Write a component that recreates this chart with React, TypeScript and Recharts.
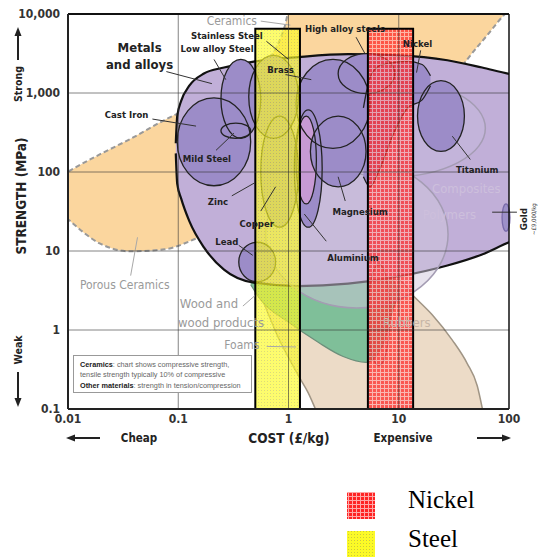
import React from "react";
import {
  ComposedChart,
  Area,
  XAxis,
  YAxis,
  ReferenceArea,
  ReferenceLine,
  ReferenceDot,
} from "recharts";

const FONT = '"DejaVu Sans Condensed", "Liberation Sans Narrow", "DejaVu Sans", sans-serif';

const X_TICKS = [0.01, 0.1, 1, 10, 100];
const Y_TICKS = [0.1, 1, 10, 100, 1000, 10000];
const X_MINOR = [
  0.02, 0.03, 0.04, 0.05, 0.06, 0.07, 0.08, 0.09,
  0.2, 0.3, 0.4, 0.5, 0.6, 0.7, 0.8, 0.9,
  2, 3, 4, 5, 6, 7, 8, 9,
  20, 30, 40, 50, 60, 70, 80, 90,
];
const Y_MINOR = [
  0.2, 0.3, 0.4, 0.5, 0.6, 0.7, 0.8, 0.9,
  2, 3, 4, 5, 6, 7, 8, 9,
  20, 30, 40, 50, 60, 70, 80, 90,
  200, 300, 400, 500, 600, 700, 800, 900,
  2000, 3000, 4000, 5000, 6000, 7000, 8000, 9000,
];

// [cost £/kg, strength low MPa, strength high MPa]
const CERAMICS = [
  [0.0076, 36, 80], [0.01, 25.3, 101], [0.0194, 12.5, 167], [0.0362, 9.9, 259],
  [0.0749, 10.5, 454], [0.155, 14.9, 750], [0.354, 23.9, 1475], [0.733, 37, 3268],
  [0.92, 41, 6820], [1.04, 48, 12290], [3.47, 128, 12290], [12, 416, 12290],
  [27.6, 1166, 12290], [41.8, 2660, 12290], [63.4, 5380, 12290], [92, 10000, 12290],
  [106, 12000, 12290],
];
const FOAMS_RUBBERS = [
  [0.5, 3.2, 3.5], [0.537, 2.95, 3.6], [0.661, 1.55, 4], [0.813, 0.785, 4],
  [1.0, 0.449, 4], [1.23, 0.264, 4], [1.51, 0.16, 4], [1.79, 0.094, 4],
  [2.2, 0.05, 4], [9.8, 0.05, 4.34], [13.9, 0.05, 2.62], [20.2, 0.05, 1.55],
  [30.6, 0.05, 0.745], [41.8, 0.05, 0.376], [51.5, 0.05, 0.197], [58.3, 0.05, 0.09],
];
const WOOD = [
  [0.454, 3.74, 4.34], [0.56, 2.4, 5.8], [1.0, 1.26, 5.8], [1.86, 0.698, 5.8],
  [3.13, 0.462, 5.8], [5.05, 0.39, 5.8], [7.18, 0.645, 5.8], [8.83, 1.79, 4.5],
  [9.8, 2.6, 3.0],
];
const METALS = [
  [0.095, 172, 231], [0.0979, 71, 510], [0.1065, 45.7, 800], [0.126, 23.9, 1236],
  [0.171, 11.1, 1762], [0.26, 5.8, 2100], [0.484, 3.97, 2500], [1.23, 3.6, 2850],
  [3.47, 3.86, 3100], [9.8, 4.73, 3000], [27.6, 6.55, 2600], [57, 9.05, 2100],
  [100, 12.9, 1750], [131, 14.9, 1650],
];
const NICKEL_ALLOYS = [
  [4.78, 87, 647], [5.48, 65, 1564], [6.74, 110, 2230], [9.0, 310, 2433],
  [12.0, 647, 2507], [16.3, 818, 2295], [19.4, 1236, 1652],
];

// material families drawn as ellipses: cost range, strength range
const ENVELOPES = [
  { name: "polymers", x1: 0.62, x2: 28, y1: 1.9, y2: 140 },
  { name: "composites", x1: 1.23, x2: 61, y1: 87, y2: 1475 },
];
const METAL_GROUPS = [
  { name: "stainless", x1: 0.436, x2: 1.23, y1: 267, y2: 2992 },
  { name: "copper", x1: 0.56, x2: 1.23, y1: 20, y2: 511 },
  { name: "brass", x1: 1.17, x2: 5.48, y1: 199, y2: 2660 },
  { name: "aluminium", x1: 1.13, x2: 2.02, y1: 20, y2: 610 },
  { name: "zinc", x1: 1.17, x2: 1.79, y1: 39.4, y2: 511 },
  { name: "highAlloy", x1: 2.82, x2: 9.2, y1: 980, y2: 3150 },
  { name: "magnesium", x1: 1.58, x2: 5.05, y1: 65, y2: 511 },
  { name: "lowAlloy", x1: 0.244, x2: 0.56, y1: 267, y2: 2660 },
  { name: "castIron", x1: 0.0979, x2: 0.454, y1: 67, y2: 869 },
  { name: "mildSteel", x1: 0.244, x2: 0.454, y1: 267, y2: 416 },
  { name: "titanium", x1: 14.8, x2: 39.4, y1: 182, y2: 1432 },
  { name: "lead", x1: 0.354, x2: 0.764, y1: 4.08, y2: 12.9 },
  { name: "gold", x1: 86.5, x2: 102, y1: 17.8, y2: 39.4 },
  { name: "elastomer", x1: 5.26, x2: 8.3, y1: 0.355, y2: 6.75 },
];

const BARS = [
  { name: "Steel", x1: 0.5, x2: 1.27, y1: 0.1, y2: 6500 },
  { name: "Nickel", x1: 5.25, x2: 13.5, y1: 0.1, y2: 6500 },
];

const LABELS = [
  { text: "Ceramics", x: 0.306, y: 8130, kind: "grey" },
  { text: "Stainless Steel", x: 0.276, y: 5380, kind: "metal" },
  { text: "Low alloy Steel", x: 0.225, y: 3675, kind: "metal" },
  { text: "Metals", x: 0.0446, y: 3786, kind: "title" },
  { text: "and alloys", x: 0.0446, y: 2295, kind: "title" },
  { text: "Cast Iron", x: 0.034, y: 542, kind: "metal" },
  { text: "Mild Steel", x: 0.182, y: 148, kind: "metal" },
  { text: "Zinc", x: 0.229, y: 41.8, kind: "metal" },
  { text: "Copper", x: 0.515, y: 22.5, kind: "metal" },
  { text: "Lead", x: 0.276, y: 13.3, kind: "metal" },
  { text: "Brass", x: 0.847, y: 1980, kind: "metal" },
  { text: "High alloy steels", x: 3.26, y: 6620, kind: "metal" },
  { text: "Nickel", x: 14.8, y: 4255, kind: "metal" },
  { text: "Titanium", x: 51.5, y: 107, kind: "metal" },
  { text: "Magnesium", x: 4.46, y: 31.2, kind: "metal" },
  { text: "Aluminium", x: 3.85, y: 8.28, kind: "metal" },
  { text: "Composites", x: 41, y: 61.4, kind: "pale" },
  { text: "Polymers", x: 28.8, y: 29.4, kind: "pale" },
  { text: "Porous Ceramics", x: 0.0327, y: 3.74, kind: "grey" },
  { text: "Wood and", x: 0.19, y: 2.14, kind: "greyBig" },
  { text: "wood products", x: 0.244, y: 1.26, kind: "greyBig" },
  { text: "Foams", x: 0.378, y: 0.64, kind: "grey" },
  { text: "Rubbers", x: 11.8, y: 1.26, kind: "rubber" },
  { text: "Gold", x: 136, y: 25.3, kind: "gold" },
  { text: "~£9,000/kg", x: 168, y: 25.3, kind: "tiny" },
];

const LEADERS = [
  { x1: 0.56, y1: 8130, x2: 1.04, y2: 7230, kind: "grey" },
  { x1: 0.63, y1: 4520, x2: 1.0, y2: 2660, kind: "dark" },
  { x1: 0.211, y1: 2660, x2: 0.27, y2: 1475, kind: "dark" },
  { x1: 0.078, y1: 1867, x2: 0.202, y2: 1313, kind: "dark" },
  { x1: 0.0583, y1: 468, x2: 0.145, y2: 381, kind: "dark" },
  { x1: 0.22, y1: 188, x2: 0.32, y2: 310, kind: "dark" },
  { x1: 0.306, y1: 49.9, x2: 0.494, y2: 73, kind: "dark" },
  { x1: 0.354, y1: 11.8, x2: 0.474, y2: 8.8, kind: "dark" },
  { x1: 0.56, y1: 32, x2: 0.764, y2: 65, kind: "dark" },
  { x1: 0.94, y1: 1711, x2: 1.61, y2: 1475, kind: "dark" },
  { x1: 4.1, y1: 5083, x2: 4.94, y2: 3150, kind: "dark" },
  { x1: 15.8, y1: 3465, x2: 14.5, y2: 1811, kind: "dark" },
  { x1: 44.6, y1: 144, x2: 30.6, y2: 284, kind: "dark" },
  { x1: 3.27, y1: 43, x2: 2.82, y2: 87, kind: "dark" },
  { x1: 2.2, y1: 13.3, x2: 1.39, y2: 29.4, kind: "dark" },
  { x1: 0.037, y1: 4.88, x2: 0.0427, y2: 14.9, kind: "grey" },
  { x1: 0.386, y1: 2.01, x2: 0.494, y2: 2.71, kind: "grey" },
  { x1: 0.634, y1: 0.62, x2: 1.17, y2: 0.61, kind: "grey" },
  { x1: 70.3, y1: 31, x2: 118, y2: 31, kind: "dark" },
];

const LABEL_STYLE: Record<string, any> = {
  metal: { fill: "#222", fontSize: 9.5, fontWeight: 700 },
  title: { fill: "#222", fontSize: 13, fontWeight: 700 },
  grey: { fill: "#9a9a9a", fontSize: 12, fontWeight: 400 },
  greyBig: { fill: "#9a9a9a", fontSize: 13, fontWeight: 400 },
  pale: { fill: "#cdbfdc", fontSize: 13, fontWeight: 400 },
  rubber: { fill: "#c6b5a6", fontSize: 13, fontWeight: 400 },
  gold: { fill: "#222", fontSize: 9.5, fontWeight: 700, rotate: -90 },
  tiny: { fill: "#333", fontSize: 6, fontWeight: 400, rotate: -90 },
};

const GROUP_FILL: Record<string, string> = {
  zinc: "#c79ad4",
  gold: "#9d90c9",
  elastomer: "#c79a9a",
};

const rows = (pts: number[][]) => pts.map(([x, lo, hi]) => ({ x, range: [lo, hi] }));

const fmtY = (v: number) => (v >= 1000 ? v.toLocaleString("en-US") : String(v));

function ellipse() {
  return (p: any) => (
    <ellipse
      cx={p.x + p.width / 2}
      cy={p.y + p.height / 2}
      rx={Math.abs(p.width) / 2}
      ry={Math.abs(p.height) / 2}
      fill={p.fill}
      fillOpacity={p.fillOpacity}
      stroke={p.stroke}
      strokeWidth={p.strokeWidth}
    />
  );
}

function labelShape(text: string, kind: string) {
  return (p: any) => {
    const { rotate, ...st } = LABEL_STYLE[kind];
    return (
      <text
        x={p.cx}
        y={p.cy}
        textAnchor="middle"
        dominantBaseline="central"
        fontFamily={FONT}
        transform={rotate ? `rotate(${rotate} ${p.cx} ${p.cy})` : undefined}
        {...st}
      >
        {text}
      </text>
    );
  };
}

function Arrow({ x1, y1, x2, y2 }: any) {
  const a = Math.atan2(y2 - y1, x2 - x1);
  const L = 9;
  const s = 3.5;
  const bx = x2 - L * Math.cos(a);
  const by = y2 - L * Math.sin(a);
  const nx = -Math.sin(a) * s;
  const ny = Math.cos(a) * s;
  return (
    <g>
      <line x1={x1} y1={y1} x2={bx} y2={by} stroke="#222" strokeWidth={2} />
      <polygon points={`${x2},${y2} ${bx + nx},${by + ny} ${bx - nx},${by - ny}`} fill="#222" />
    </g>
  );
}

const axisText = { fontFamily: FONT, fill: "#222", fontWeight: 700 } as const;

function YLabel(props: any) {
  const vb = props.viewBox || {};
  const top = vb.y ?? 14;
  const bottom = top + (vb.height ?? 395);
  return (
    <g>
      <Arrow x1={18} y1={top + 46} x2={18} y2={top + 13} />
      <text x={18} y={top + 70} {...axisText} fontSize={10.5} textAnchor="middle" dominantBaseline="central" transform={`rotate(-90 18 ${top + 70})`}>
        Strong
      </text>
      <text x={21} y={196} {...axisText} fontSize={13.5} textAnchor="middle" dominantBaseline="central" transform="rotate(-90 21 196)">
        STRENGTH (MPa)
      </text>
      <text x={18} y={bottom - 59} {...axisText} fontSize={10.5} textAnchor="middle" dominantBaseline="central" transform={`rotate(-90 18 ${bottom - 59})`}>
        Weak
      </text>
      <Arrow x1={18} y1={bottom - 37} x2={18} y2={bottom - 2} />
    </g>
  );
}

function XLabel() {
  const y = 438;
  return (
    <g>
      <Arrow x1={100} y1={y} x2={66} y2={y} />
      <text x={139} y={y} {...axisText} fontSize={11.5} textAnchor="middle" dominantBaseline="central">
        Cheap
      </text>
      <text x={289} y={y} {...axisText} fontSize={13.5} textAnchor="middle" dominantBaseline="central">
        COST (£/kg)
      </text>
      <text x={403} y={y} {...axisText} fontSize={11.5} textAnchor="middle" dominantBaseline="central">
        Expensive
      </text>
      <Arrow x1={477} y1={y} x2={511} y2={y} />
    </g>
  );
}

const LEGEND = [
  { name: "Nickel", pattern: "legRed" },
  { name: "Steel", pattern: "legYellow" },
];

function Patterns({ red, yellow }: { red: string; yellow: string }) {
  return (
    <defs>
      <pattern id={red} width="4" height="4" patternUnits="userSpaceOnUse">
        <rect width="4" height="4" fill="#ff2424" />
        <rect width="4" height="1" fill="#ffa8a8" />
        <rect width="1" height="4" fill="#ffa8a8" />
      </pattern>
      <pattern id={yellow} width="3" height="3" patternUnits="userSpaceOnUse">
        <rect width="3" height="3" fill="#ffff1a" />
        <rect width="1" height="1" fill="#c9c24a" />
        <rect x="1.5" y="1.5" width="1" height="1" fill="#e8e070" />
      </pattern>
    </defs>
  );
}

export default function App() {
  return (
    <div style={{ position: "absolute", left: 0, top: 0, width: 543, height: 557, background: "#fff" }}>
      <ComposedChart width={543} height={557} margin={{ top: 14, right: 34, left: 0, bottom: 118 }}>
        <Patterns red="barRed" yellow="barYellow" />
        <XAxis
          dataKey="x"
          type="number"
          scale="log"
          domain={[0.01, 100]}
          ticks={X_TICKS}
          allowDataOverflow
          height={30}
          tickSize={3}
          tickMargin={2}
          tickLine={false}
          axisLine={{ stroke: "#222", strokeWidth: 2 }}
          tick={{ fill: "#333", fontSize: 12, fontWeight: 700, fontFamily: FONT }}
          label={{ content: <XLabel /> } as any}
        />
        <XAxis
          xAxisId="minor"
          dataKey="x"
          type="number"
          scale="log"
          domain={[0.01, 100]}
          ticks={X_MINOR}
          allowDataOverflow
          mirror
          tick={false}
          tickSize={4}
          axisLine={false}
          tickLine={{ stroke: "#555" }}
        />
        <YAxis
          type="number"
          scale="log"
          domain={[0.1, 10000]}
          ticks={Y_TICKS}
          allowDataOverflow
          width={68}
          tickLine={false}
          tickFormatter={fmtY}
          axisLine={{ stroke: "#222", strokeWidth: 2 }}
          tick={{ fill: "#333", fontSize: 12, fontWeight: 700, fontFamily: FONT }}
          label={{ content: <YLabel /> } as any}
        />
        <YAxis
          yAxisId="minor"
          type="number"
          scale="log"
          domain={[0.1, 10000]}
          ticks={Y_MINOR}
          allowDataOverflow
          mirror
          tick={false}
          tickSize={4}
          axisLine={false}
          tickLine={{ stroke: "#555" }}
        />

        <Area data={rows(CERAMICS)} dataKey="range" type="monotoneX" fill="#fbd69e" fillOpacity={1} stroke="#999" strokeWidth={2} strokeDasharray="5 3" isAnimationActive={false} dot={false} activeDot={false} />
        <Area data={rows(FOAMS_RUBBERS)} dataKey="range" type="monotoneX" fill="#ecdbc7" fillOpacity={1} stroke="#a09585" strokeWidth={1.5} isAnimationActive={false} dot={false} activeDot={false} />
        <Area data={rows(WOOD)} dataKey="range" type="monotoneX" fill="#7fbf99" fillOpacity={1} stroke="#6d8f7b" strokeWidth={1.2} isAnimationActive={false} dot={false} activeDot={false} />
        <Area data={rows(METALS)} dataKey="range" type="monotoneX" fill="#c1afd8" fillOpacity={1} stroke="#111" strokeWidth={2.2} isAnimationActive={false} dot={false} activeDot={false} />

        {ENVELOPES.map((e) => (
          <ReferenceArea key={e.name} x1={e.x1} x2={e.x2} y1={e.y1} y2={e.y2} ifOverflow="visible" fill={e.name === "polymers" ? "#cfc8dc" : "#c9bde0"} fillOpacity={e.name === "polymers" ? 0.5 : 0.35} stroke="#a49cb3" strokeWidth={1.5} shape={ellipse()} />
        ))}
        {METAL_GROUPS.map((g) => (
          <ReferenceArea key={g.name + "f"} x1={g.x1} x2={g.x2} y1={g.y1} y2={g.y2} ifOverflow="visible" fill={GROUP_FILL[g.name] || "#9c8cc8"} fillOpacity={g.name === "elastomer" ? 0.35 : 1} stroke="none" shape={ellipse()} />
        ))}
        <Area data={rows(NICKEL_ALLOYS)} dataKey="range" type="monotoneX" fill="#9c8cc8" fillOpacity={1} stroke="#222" strokeWidth={1.3} isAnimationActive={false} dot={false} activeDot={false} />
        {METAL_GROUPS.map((g) => (
          <ReferenceArea key={g.name + "s"} x1={g.x1} x2={g.x2} y1={g.y1} y2={g.y2} ifOverflow="visible" fill="none" stroke={g.name === "elastomer" ? "#8a7f80" : g.name === "gold" ? "#7a6cab" : "#222"} strokeWidth={1.3} shape={ellipse()} />
        ))}

        {LEADERS.map((l, i) => (
          <ReferenceLine key={"l" + i} segment={[{ x: l.x1, y: l.y1 }, { x: l.x2, y: l.y2 }]} ifOverflow="visible" stroke={l.kind === "grey" ? "#a8a8a8" : "#333"} strokeWidth={1} />
        ))}
        {LABELS.map((t) => (
          <ReferenceDot key={t.text} x={t.x} y={t.y} r={0} ifOverflow="visible" shape={labelShape(t.text, t.kind)} />
        ))}

        {BARS.map((b) => (
          <ReferenceArea key={b.name} x1={b.x1} x2={b.x2} y1={b.y1} y2={b.y2} ifOverflow="visible" fill={b.name === "Nickel" ? "url(#barRed)" : "url(#barYellow)"} fillOpacity={b.name === "Nickel" ? 0.72 : 0.68} stroke="#000" strokeWidth={2} />
        ))}

        {[0.1, 1, 10].map((v) => (
          <ReferenceLine key={"gx" + v} x={v} stroke="#333" strokeOpacity={0.6} strokeWidth={1} />
        ))}
        {[1, 10, 100, 1000].map((v) => (
          <ReferenceLine key={"gy" + v} y={v} stroke="#333" strokeOpacity={0.6} strokeWidth={1} />
        ))}
        <ReferenceLine y={10000} stroke="#111" strokeWidth={2} />
        <ReferenceLine x={100} stroke="#111" strokeWidth={1.5} />
      </ComposedChart>

      <div
        style={{
          position: "absolute",
          left: 73,
          top: 355,
          width: 179,
          height: 38,
          border: "1px solid #999",
          background: "#fff",
          fontFamily: '"Liberation Sans", Arial, sans-serif',
          fontSize: 7.3,
          color: "#666",
          lineHeight: "10px",
          padding: "4px 0 0 6px",
          boxSizing: "border-box",
          whiteSpace: "nowrap",
        }}
      >
        <div>
          <b style={{ color: "#222" }}>Ceramics</b>: chart shows compressive strength,
        </div>
        <div>tensile strength typically 10% of compressive</div>
        <div style={{ marginTop: 1 }}>
          <b style={{ color: "#222" }}>Other materials</b>: strength in tension/compression
        </div>
      </div>

      <svg width={543} height={557} style={{ position: "absolute", left: 0, top: 0, pointerEvents: "none" }}>
        <Patterns red="legRed" yellow="legYellow" />
        {LEGEND.map((l, i) => (
          <g key={l.name}>
            <rect x={347} y={492 + i * 39} width={28} height={27} fill={`url(#${l.pattern})`} />
            <text x={408} y={508 + i * 39} fontFamily='"Liberation Serif", "Times New Roman", serif' fontSize={25} fill="#000">
              {l.name}
            </text>
          </g>
        ))}
      </svg>
    </div>
  );
}
